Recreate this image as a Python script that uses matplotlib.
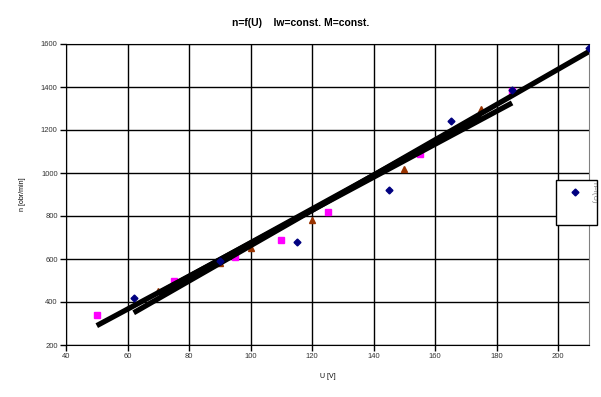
import matplotlib.pyplot as plt
from matplotlib.patches import Rectangle
from matplotlib.lines import Line2D

plt.rcParams['font.family'] = ['Liberation Sans', 'DejaVu Sans']

# measured points
u_blue = [62, 90, 115, 145, 165, 185, 210]
n_blue = [420, 590, 680, 920, 1240, 1385, 1580]
u_mag = [50, 75, 95, 110, 125, 155, 185]
n_mag = [340, 500, 610, 690, 820, 1090, 1380]
u_tri = [70, 90, 100, 120, 150, 175]
n_tri = [450, 580, 650, 780, 1020, 1300]

# trend lines (one per series)
u_fit_blue = [62, 210]
n_fit_blue = [350, 1565]
u_fit_mag = [50, 185]
n_fit_mag = [290, 1326]
u_fit_tri = [70, 175]
n_fit_tri = [440, 1265]

xticks = [40, 60, 80, 100, 120, 140, 160, 180, 200]
yticks = [200, 400, 600, 800, 1000, 1200, 1400, 1600]

fig = plt.figure(figsize=(6.01, 3.97), dpi=100)
ax = fig.add_axes([66/601, 1-345/397, (589-66)/601, (345-44)/397])

ax.plot(u_mag, n_mag, 's', color='#FF00FF', ms=5, mec='#FF00FF', zorder=3)
ax.plot(u_tri, n_tri, '^', color='#993300', ms=5, mec='#993300', zorder=3)
ax.plot(u_blue, n_blue, 'D', color='#000080', ms=3.5, mec='#000080', zorder=5)
for u, n in [(u_fit_blue, n_fit_blue), (u_fit_mag, n_fit_mag), (u_fit_tri, n_fit_tri)]:
    ax.plot(u, n, color='black', lw=3.8, solid_capstyle='butt', zorder=4)

ax.set_xlim(40, 210)
ax.set_ylim(200, 1600)
ax.set_xticks(xticks)
ax.set_yticks(yticks)
ax.grid(True, color='black', lw=1)
ax.set_axisbelow(True)
for s in ['left', 'bottom', 'top']:
    ax.spines[s].set_color('black')
ax.spines['right'].set_color('gray')
ax.tick_params(labelsize=5.5, length=4, width=1, colors='black', labelcolor='#333333', pad=2)

ax.set_xlabel('U [V]', fontsize=5, labelpad=9)
ax.set_ylabel('n [obr/min]', fontsize=5, labelpad=11)
fig.suptitle('n=f(U)    Iw=const. M=const.', fontsize=7.5, fontweight='bold', y=0.955)

# legend box, its text cut off
box = Rectangle((556/601, 1-225/397), 41/601, 45/397, transform=fig.transFigure,
                facecolor='white', edgecolor='black', lw=1, zorder=10)
fig.add_artist(box)
fig.add_artist(Line2D([574.5/601], [1-192/397], marker='D', color='#000080', ms=3.5,
                      transform=fig.transFigure, zorder=11))
t = fig.text(591/601, 1-182/397, 'n=f(U)', rotation=-90, fontsize=5.5, color='gray',
             va='top', ha='left', zorder=11)
t.set_clip_path(box)

plt.savefig('out.png')
